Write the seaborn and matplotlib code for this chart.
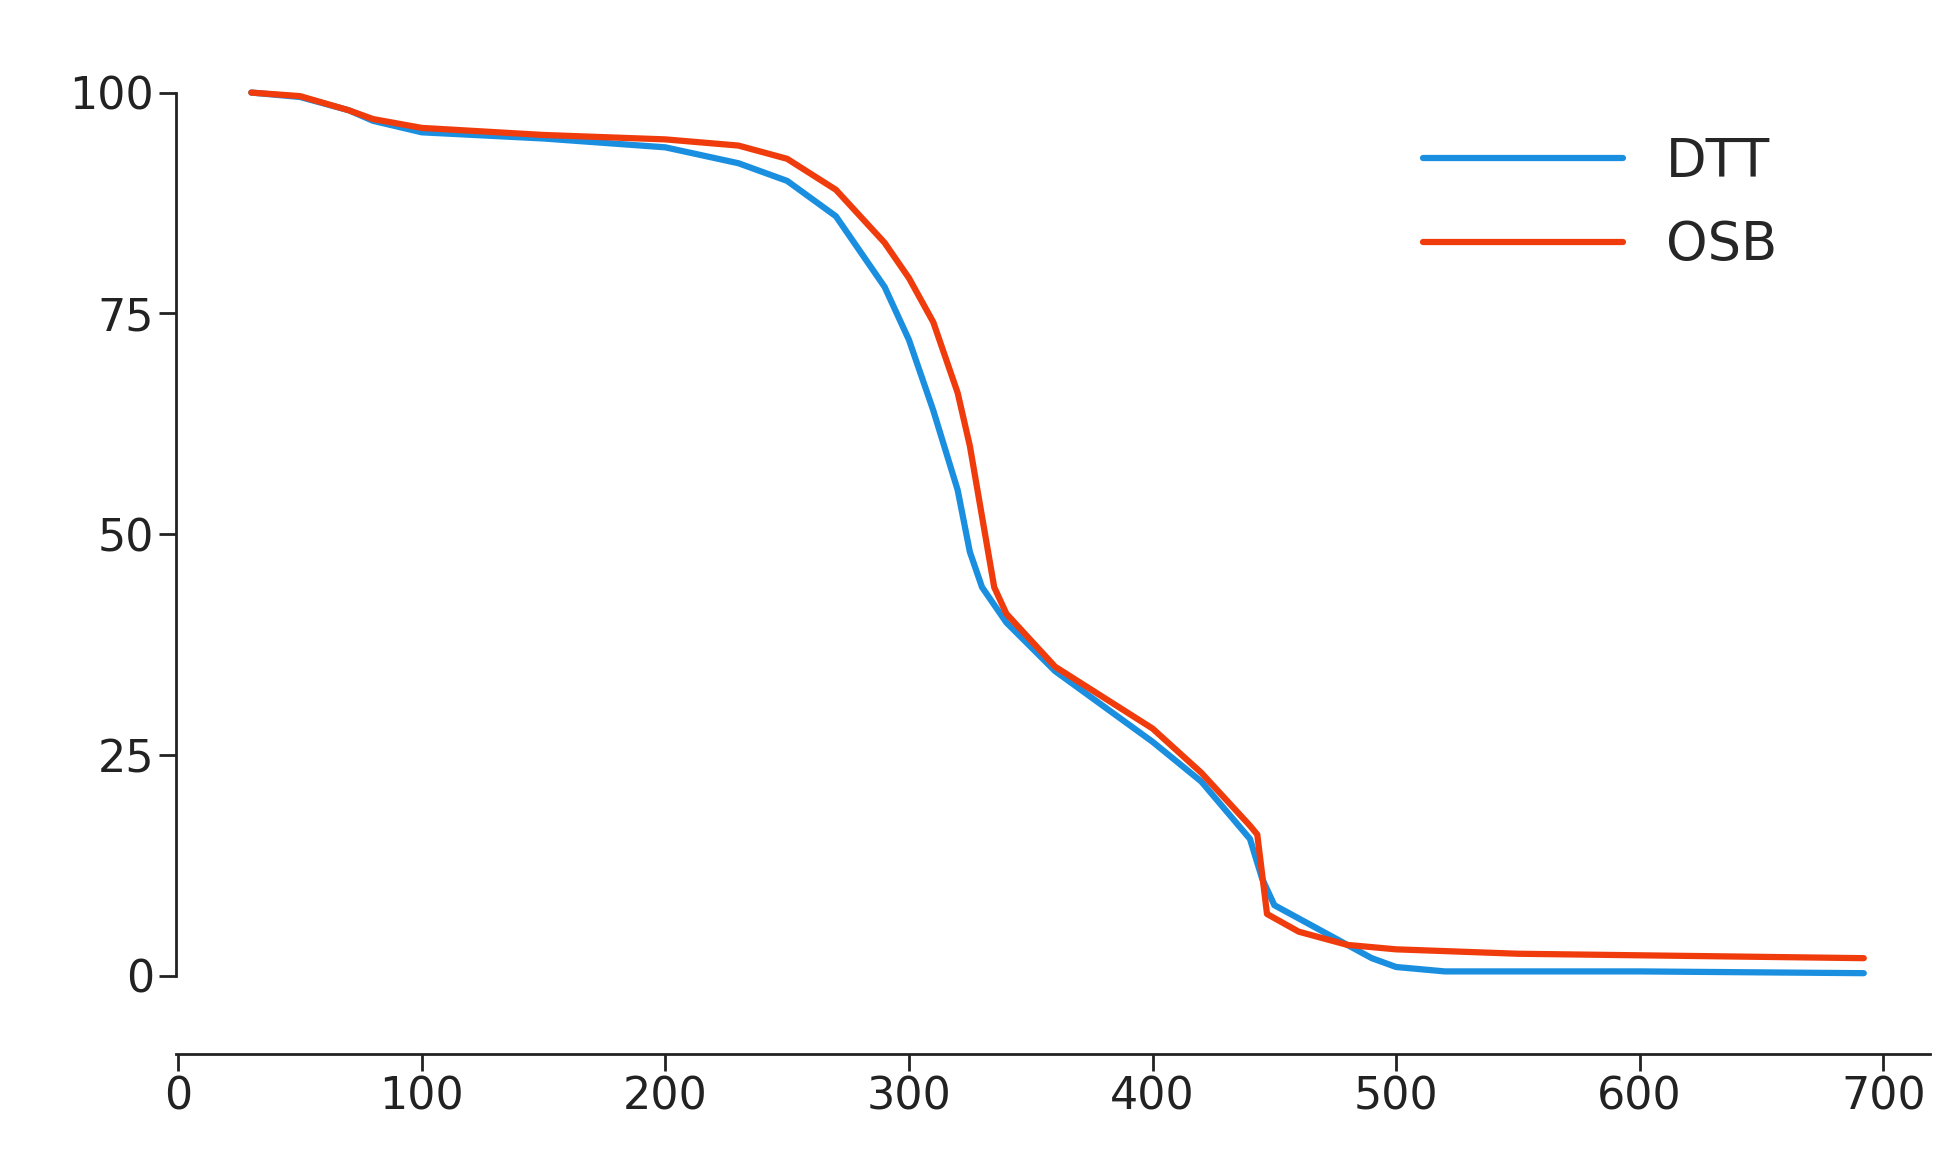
import matplotlib
matplotlib.use("Agg")
import matplotlib.pyplot as plt
import seaborn as sns
import pandas as pd

dtt_x = [30, 50, 70, 80, 100, 150, 200, 230, 250, 270, 290, 300, 310, 320, 325, 330, 340, 360, 380, 400, 420, 440, 445, 450, 470, 490, 500, 520, 600, 692]
dtt_y = [100, 99.5, 98, 96.8, 95.5, 94.8, 93.8, 92, 90, 86, 78, 72, 64, 55, 48, 44, 40, 34.5, 30.5, 26.5, 22, 15.5, 11, 8, 5, 2, 1, 0.5, 0.5, 0.3]
osb_x = [30, 50, 70, 80, 100, 150, 200, 230, 250, 270, 290, 300, 310, 320, 325, 330, 335, 340, 360, 380, 400, 420, 440, 443, 447, 460, 480, 500, 550, 692]
osb_y = [100, 99.6, 98, 97, 96, 95.2, 94.7, 94, 92.5, 89, 83, 79, 74, 66, 60, 52, 44, 41, 35, 31.5, 28, 23, 17, 16, 7, 5, 3.5, 3, 2.5, 2]

df = pd.concat([
    pd.DataFrame({"x": dtt_x, "y": dtt_y, "s": "DTT"}),
    pd.DataFrame({"x": osb_x, "y": osb_y, "s": "OSB"}),
])

sns.set_style("white")
fig = plt.figure(figsize=(19.53, 11.6), dpi=100)
ax = fig.add_axes([0.09, 0.091, 0.898, 0.833])
sns.lineplot(data=df, x="x", y="y", hue="s", palette={"DTT": "#1a8fe0", "OSB": "#f03c0c"},
             linewidth=4.5, ax=ax, sort=False)
ax.set_xlim(-1, 719)
ax.set_ylim(-8.9, 100.5)
ax.set_xticks(range(0, 701, 100))
ax.set_yticks([0, 25, 50, 75, 100])
ax.spines["top"].set_visible(False)
ax.spines["right"].set_visible(False)
ax.spines["left"].set_bounds(0, 100)
for s in ["left", "bottom"]:
    ax.spines[s].set_color("#222222")
    ax.spines[s].set_linewidth(2)
ax.tick_params(axis="both", direction="out", length=12, width=2, labelsize=32, colors="#222222", left=True, bottom=True)
ax.set_xlabel("")
ax.set_ylabel("")
leg = ax.legend(loc="upper right", frameon=False, fontsize=38, handlelength=3.8,
                bbox_to_anchor=(0.94, 1.0), labelspacing=0.6)
for l in leg.get_lines():
    l.set_linewidth(4.5)
fig.savefig("out.png", dpi=100)
